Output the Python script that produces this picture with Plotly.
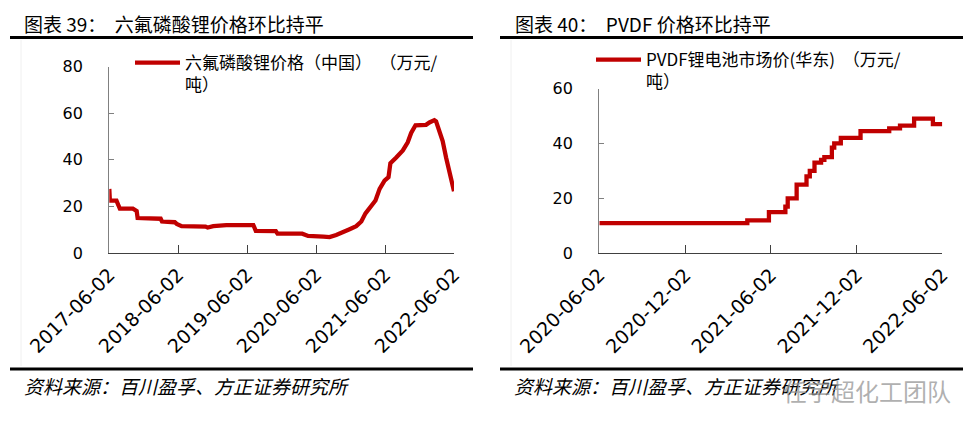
import plotly.graph_objects as go

# 六氟磷酸锂价格（中国），万元/吨
lipf6_dates = [
    "2017-06-02", "2017-06-05", "2017-07-10", "2017-07-20", "2017-07-28",
    "2017-10-05", "2017-10-15", "2017-10-25", "2017-10-30", "2018-03-01",
    "2018-03-08", "2018-05-15", "2018-05-25", "2018-06-20", "2018-10-25",
    "2018-11-05", "2018-12-05", "2019-02-12", "2019-07-05", "2019-07-18",
    "2019-11-01", "2019-11-10", "2020-03-20", "2020-04-20", "2020-07-10",
    "2020-08-12", "2020-09-16", "2020-10-22", "2020-11-26", "2020-12-31",
    "2021-01-27", "2021-02-18", "2021-03-12", "2021-04-12", "2021-05-04",
    "2021-05-30", "2021-06-20", "2021-06-30", "2021-07-31", "2021-09-04",
    "2021-09-30", "2021-10-18", "2021-11-10", "2022-01-05", "2022-01-23",
    "2022-02-18", "2022-02-27", "2022-03-17", "2022-04-03", "2022-04-21",
    "2022-05-09", "2022-05-22", "2022-06-02",
]
lipf6_price = [
    27.5, 22.5, 22.5, 21.0, 19.0,
    19.0, 18.3, 18.0, 15.0, 14.7,
    13.5, 13.2, 12.5, 11.5, 11.3,
    10.9, 11.5, 12.0, 12.0, 9.5,
    9.4, 8.3, 8.3, 7.3, 7.0,
    6.8, 7.7, 9.2, 10.2, 11.5,
    13.5, 17.0, 19.5, 22.5, 27.5,
    31.0, 32.5, 38.5, 41.0, 44.0,
    47.5, 51.5, 54.8, 55.0, 56.0,
    57.0, 56.5, 52.5, 48.0, 41.0,
    35.0, 30.0, 26.5,
]
lipf6_ticks = ["2017-06-02", "2018-06-02", "2019-06-02", "2020-06-02", "2021-06-02", "2022-06-02"]

# PVDF锂电池市场价（华东），万元/吨
pvdf_dates = [
    "2020-06-02", "2021-04-13", "2021-05-29", "2021-07-03", "2021-07-08",
    "2021-07-27", "2021-08-17", "2021-08-24", "2021-09-03", "2021-09-17",
    "2021-09-24", "2021-10-10", "2021-10-15", "2021-10-29", "2021-12-10",
    "2022-02-09", "2022-03-04", "2022-04-03", "2022-05-13", "2022-06-02",
]
pvdf_price = [
    11.0, 12.0, 15.0, 17.0, 20.0,
    25.0, 28.0, 30.0, 33.0, 34.0,
    35.0, 38.5, 40.0, 42.0, 44.5,
    45.5, 46.5, 49.0, 47.0, 47.0,
]
pvdf_ticks = ["2020-06-02", "2020-12-02", "2021-06-02", "2021-12-02", "2022-06-02"]

RED = "#C00000"
CJK = "Noto Sans CJK SC"
NUM = "DejaVu Sans"
OFF = 8  # page body margin
W, H = 978 - OFF, 431 - OFF


def px_x(v):
    return (v - OFF) / W


def px_y(v):
    return 1 - (v - OFF) / H


fig = go.Figure()

fig.add_trace(go.Scatter(
    x=lipf6_dates, y=lipf6_price, mode="lines", xaxis="x", yaxis="y",
    name="六氟磷酸锂价格（中国）  （万元/<br>吨）",
    line=dict(color=RED, width=4.3), legend="legend",
))
fig.add_trace(go.Scatter(
    x=pvdf_dates, y=pvdf_price, mode="lines", xaxis="x2", yaxis="y2",
    name="PVDF锂电池市场价(华东)  （万元/<br>吨）",
    line=dict(color=RED, width=4.3, shape="hv"), legend="legend2",
))

xcommon = dict(
    type="date", showgrid=False, zeroline=False, showline=True,
    linecolor="#404040", linewidth=1.3, ticks="inside", ticklen=8,
    tickcolor="#404040", tickangle=-45, automargin=False,
    tickfont=dict(family=NUM, size=19, color="#000"),
    ticklabelstandoff=2,
)
ycommon = dict(
    showgrid=False, zeroline=False, showline=True, linecolor="#808080",
    linewidth=1.3, ticks="inside", ticklen=5, tickcolor="#808080",
    tickfont=dict(family=NUM, size=16, color="#000"), automargin=False,
    ticklabelstandoff=22,
)

fig.update_layout(
    width=W, height=H,
    margin=dict(l=0, r=0, t=0, b=0, autoexpand=False),
    paper_bgcolor="white", plot_bgcolor="white",
    xaxis=dict(xcommon, domain=[px_x(109.3), px_x(454)], anchor="y",
               range=["2017-06-02", "2022-06-02"],
               tickvals=lipf6_ticks, ticktext=lipf6_ticks),
    yaxis=dict(ycommon, domain=[px_y(253), px_y(66.5)], anchor="x",
               range=[0, 80], tickvals=[0, 20, 40, 60, 80]),
    xaxis2=dict(xcommon, domain=[px_x(599.3), px_x(942.3)], anchor="y2",
                range=["2020-06-02", "2022-06-02"],
                tickvals=pvdf_ticks, ticktext=pvdf_ticks),
    yaxis2=dict(ycommon, domain=[px_y(253.3), px_y(88.5)], anchor="x2",
                range=[0, 60], tickvals=[0, 20, 40, 60]),
    legend=dict(x=px_x(130), y=px_y(45), xanchor="left", yanchor="top",
                font=dict(family=CJK, size=17, color="#000"), valign="top",
                bgcolor="rgba(0,0,0,0)", itemwidth=45),
    legend2=dict(x=px_x(591), y=px_y(42), xanchor="left", yanchor="top",
                 font=dict(family=CJK, size=17, color="#000"), valign="top",
                 bgcolor="rgba(0,0,0,0)", itemwidth=45),
    showlegend=True,
)

# titles, rules and footers of the two panels
panels = [
    (10, 473, 22, "图表 39：  六氟磷酸锂价格环比持平"),
    (500, 963, 513, "图表 40：  PVDF 价格环比持平"),
]
for x0, x1, tx, title in panels:
    fig.add_annotation(x=px_x(tx), y=px_y(23), xref="paper", yref="paper",
                       text=title, showarrow=False, xanchor="left", yanchor="middle",
                       font=dict(family=CJK, size=19, color="#000"))
    fig.add_shape(type="line", xref="paper", yref="paper",
                  x0=px_x(x0), x1=px_x(x1), y0=px_y(37.5), y1=px_y(37.5),
                  line=dict(color="#000", width=3))
    fig.add_shape(type="line", xref="paper", yref="paper",
                  x0=px_x(x0), x1=px_x(x1), y0=px_y(369), y1=px_y(369),
                  line=dict(color="#000", width=3))
    fig.add_shape(type="line", xref="paper", yref="paper",
                  x0=px_x(x0 + 11), x1=px_x(x0 + 11), y0=px_y(40), y1=px_y(366),
                  line=dict(color="#f0f0f0", width=1))
    fig.add_annotation(x=px_x(x0 + 12), y=px_y(385), xref="paper", yref="paper",
                       text="<i>资料来源：百川盈孚、方正证券研究所</i>", showarrow=False,
                       xanchor="left", yanchor="middle",
                       font=dict(family=CJK, size=19, color="#000"))

# watermark
fig.add_annotation(x=px_x(781), y=px_y(390), xref="paper", yref="paper",
                   text="任宇超化工团队", showarrow=False, xanchor="left", yanchor="middle",
                   font=dict(family=CJK, size=24, color="rgba(150,150,150,0.75)"))

fig.write_html("out.html")
